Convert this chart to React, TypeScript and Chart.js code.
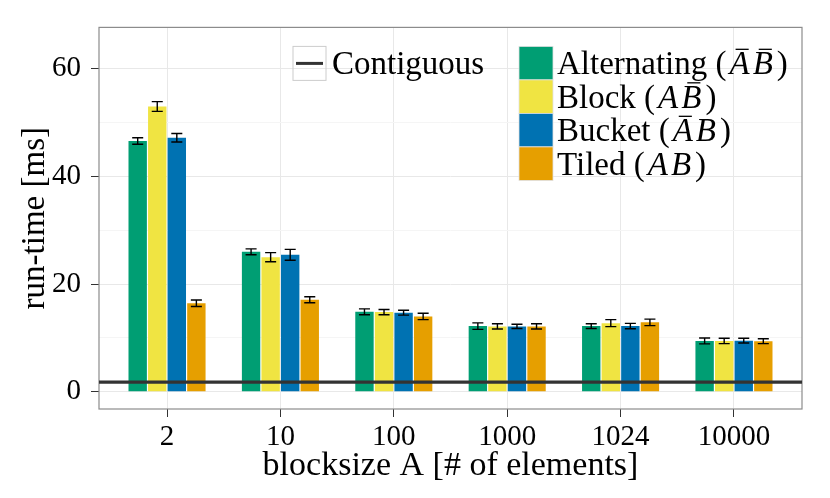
import { useEffect, useRef } from "react"
import { Chart, registerables } from "chart.js"

Chart.register(...registerables)

const categories = ["2", "10", "100", "1000", "1024", "10000"]
const seriesNames = ["Alternating", "Block", "Bucket", "Tiled"]
const seriesColors = ["#009E73", "#F0E442", "#0072B2", "#E69F00"]
// which of A and B carry a bar in the legend notation
const seriesBars = [
  [true, true],
  [false, true],
  [true, false],
  [false, false],
]

const alternating = [46.6, 26.0, 14.85, 12.2, 12.2, 9.45]
const block = [53.0, 25.0, 14.8, 12.15, 12.75, 9.45]
const bucket = [47.2, 25.45, 14.7, 12.15, 12.2, 9.5]
const tiled = [16.45, 17.1, 14.0, 12.15, 12.9, 9.4]

const alternatingErr = [0.6, 0.55, 0.55, 0.6, 0.45, 0.55]
const blockErr = [0.9, 0.85, 0.5, 0.5, 0.65, 0.5]
const bucketErr = [0.8, 1.0, 0.45, 0.4, 0.5, 0.45]
const tiledErr = [0.6, 0.55, 0.6, 0.5, 0.6, 0.45]

const contiguous = 1.8

const yGrid = [0, 10, 20, 30, 40, 50, 60]
const yTicks = [0, 20, 40, 60]

const seriesValues = [alternating, block, bucket, tiled]
const seriesErrors = [alternatingErr, blockErr, bucketErr, tiledErr]

const FONT = '"Liberation Serif", "Times New Roman", serif'

const errorBars = {
  id: "errorBars",
  afterDatasetsDraw(chart: any) {
    const { ctx } = chart
    const y = chart.scales.y
    ctx.save()
    ctx.strokeStyle = "#000000"
    ctx.lineWidth = 1.4
    seriesValues.forEach((vals, i) => {
      const meta = chart.getDatasetMeta(i)
      meta.data.forEach((bar: any, j: number) => {
        const top = y.getPixelForValue(vals[j] + seriesErrors[i][j])
        const bot = y.getPixelForValue(vals[j] - seriesErrors[i][j])
        const half = bar.width * 0.3
        ctx.beginPath()
        ctx.moveTo(bar.x, top)
        ctx.lineTo(bar.x, bot)
        ctx.moveTo(bar.x - half, top)
        ctx.lineTo(bar.x + half, top)
        ctx.moveTo(bar.x - half, bot)
        ctx.lineTo(bar.x + half, bot)
        ctx.stroke()
      })
    })
    ctx.restore()
  },
}

const panelBorder = {
  id: "panelBorder",
  beforeDatasetsDraw(chart: any) {
    const { ctx, chartArea: a } = chart
    ctx.save()
    ctx.strokeStyle = "#8c8c8c"
    ctx.lineWidth = 1.2
    ctx.strokeRect(a.left, a.top, a.right - a.left, a.bottom - a.top)
    ctx.restore()
  },
}

function drawLabel(ctx: CanvasRenderingContext2D, x: number, y: number, name: string, bars: boolean[]) {
  const size = 33
  ctx.font = `${size}px ${FONT}`
  ctx.fillText(name + " (", x, y)
  x += ctx.measureText(name + " (").width + 3
  ctx.font = `italic ${size}px ${FONT}`
  ;["A", "B"].forEach((ch, k) => {
    const w = ctx.measureText(ch).width
    ctx.fillText(ch, x, y)
    if (bars[k]) {
      ctx.beginPath()
      ctx.moveTo(x + w * 0.3, y - size * 0.76)
      ctx.lineTo(x + w * 0.95, y - size * 0.76)
      ctx.stroke()
    }
    x += w + 3
  })
  ctx.font = `${size}px ${FONT}`
  ctx.fillText(")", x + 1, y)
}

const legendPlugin = {
  id: "customLegend",
  afterDraw(chart: any) {
    const { ctx, chartArea: a } = chart
    ctx.save()
    ctx.textBaseline = "alphabetic"
    ctx.fillStyle = "#000000"
    // line key
    const bx = a.left + 194
    const by = a.top + 19
    ctx.strokeStyle = "#cccccc"
    ctx.lineWidth = 1
    ctx.strokeRect(bx, by, 33, 34)
    ctx.strokeStyle = "#333333"
    ctx.lineWidth = 3
    ctx.beginPath()
    ctx.moveTo(bx + 3, by + 17)
    ctx.lineTo(bx + 30, by + 17)
    ctx.stroke()
    ctx.font = `33px ${FONT}`
    ctx.fillText("Contiguous", bx + 39, by + 28)
    // fill keys
    const fx = a.left + 420
    const rowH = 33.5
    seriesNames.forEach((name, i) => {
      const ry = by + i * rowH
      ctx.fillStyle = seriesColors[i]
      ctx.fillRect(fx, ry, 34, rowH)
      ctx.strokeStyle = "#e0e0e0"
      ctx.lineWidth = 0.8
      ctx.strokeRect(fx, ry, 34, rowH)
      ctx.fillStyle = "#000000"
      ctx.strokeStyle = "#000000"
      ctx.lineWidth = 1.3
      drawLabel(ctx, fx + 38, ry + 28, name, seriesBars[i])
    })
    ctx.restore()
  },
}

export default function App() {
  const chartRef = useRef<HTMLCanvasElement>(null)
  const chartInstance = useRef<Chart | null>(null)

  useEffect(() => {
    document.body.style.margin = "0"
    if (!chartRef.current) return
    const ctx = chartRef.current.getContext("2d")
    if (!ctx) return
    if (chartInstance.current) chartInstance.current.destroy()

    const barSets: any[] = seriesNames.map((name, i) => ({
      type: "bar",
      label: name,
      data: seriesValues[i].map((v, j) => ({ x: j, y: v })),
      backgroundColor: seriesColors[i],
      borderWidth: 0,
      categoryPercentage: 0.69,
      barPercentage: 0.94,
      order: 1,
    }))

    chartInstance.current = new Chart(ctx, {
      type: "bar",
      data: {
        datasets: [
          ...barSets,
          {
            type: "line",
            label: "Contiguous",
            data: [
              { x: -0.6, y: contiguous },
              { x: categories.length - 0.4, y: contiguous },
            ],
            borderColor: "#333333",
            borderWidth: 3.2,
            pointRadius: 0,
            order: 0,
          },
        ],
      },
      options: {
        responsive: true,
        maintainAspectRatio: false,
        animation: false,
        layout: { padding: { left: 0, top: 27, right: 28, bottom: 0 } },
        plugins: {
          legend: { display: false },
          tooltip: { enabled: false },
        },
        scales: {
          x: {
            type: "linear",
            offset: false,
            min: -0.6,
            max: categories.length - 0.4,
            afterBuildTicks: (scale: any) => {
              scale.ticks = categories.map((_, i) => ({ value: i }))
            },
            afterFit: (scale: any) => {
              scale.height = 89
            },
            ticks: {
              callback: (v: any) => categories[v] ?? "",
              color: "#000000",
              font: { family: FONT, size: 29 },
              padding: 3,
              maxRotation: 0,
              autoSkip: false,
            },
            grid: {
              offset: false,
              color: "#e8e8e8",
              tickColor: "#333333",
              tickLength: 8,
              lineWidth: 1,
            },
            border: { display: false },
            title: {
              display: true,
              text: "blocksize A [# of elements]",
              color: "#000000",
              font: { family: FONT, size: 34, lineHeight: 1 },
              padding: { top: 0, bottom: 15 },
            },
          },
          y: {
            min: -3.2,
            max: 67.7,
            afterBuildTicks: (scale: any) => {
              scale.ticks = yGrid.map((v) => ({ value: v }))
            },
            afterFit: (scale: any) => {
              scale.width = 99
            },
            ticks: {
              callback: (v: any) => (yTicks.includes(v) ? String(v) : ""),
              color: "#000000",
              font: { family: FONT, size: 29 },
              padding: 10,
            },
            grid: {
              color: (c: any) => (yTicks.includes(c.tick?.value) ? "#e8e8e8" : "#f5f5f5"),
              tickColor: (c: any) => (yTicks.includes(c.tick?.value) ? "#333333" : "rgba(0,0,0,0)"),
              tickLength: 8,
              lineWidth: 1,
            },
            border: { display: false },
            title: {
              display: true,
              text: "run-time [ms]",
              color: "#000000",
              font: { family: FONT, size: 33, lineHeight: 1 },
              padding: { top: 19, bottom: 0 },
            },
          },
        },
      } as any,
      plugins: [panelBorder, errorBars, legendPlugin],
    })

    return () => {
      if (chartInstance.current) {
        chartInstance.current.destroy()
        chartInstance.current = null
      }
    }
  }, [])

  return (
    <div style={{ width: 830, height: 498, position: "relative" }}>
      <canvas ref={chartRef} aria-label="Run-time by block size" role="img"></canvas>
    </div>
  )
}
